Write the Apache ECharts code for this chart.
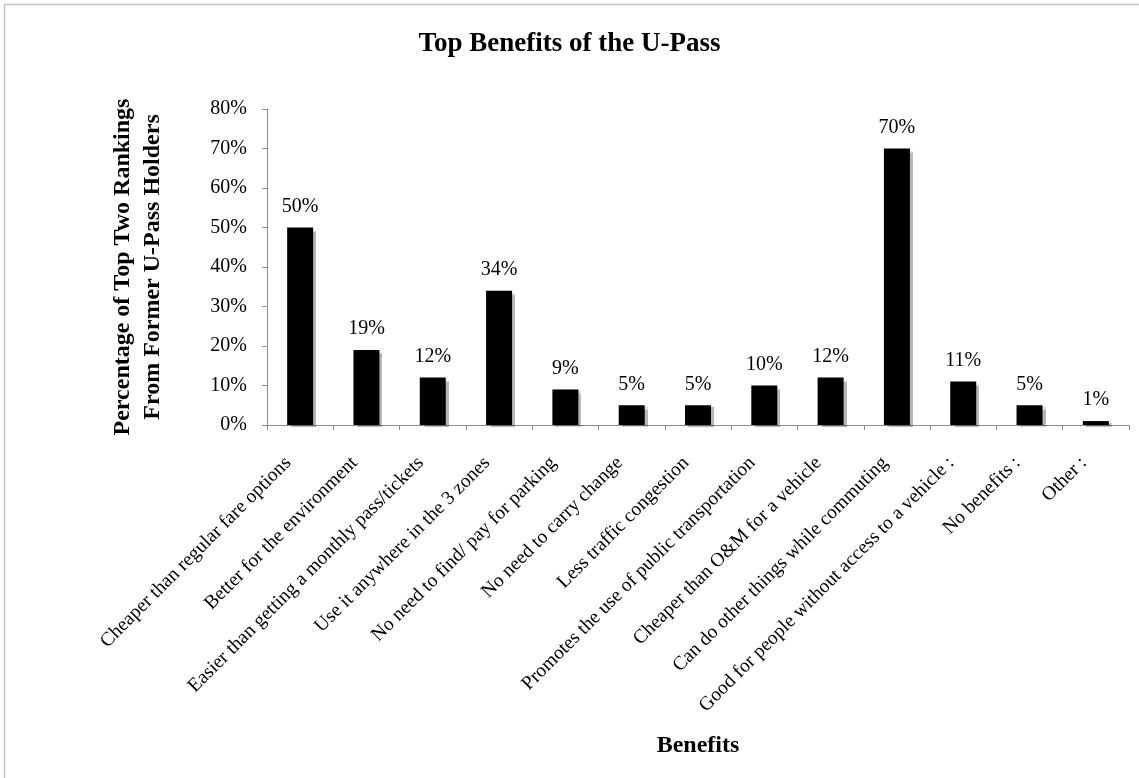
<!DOCTYPE html>
<html>
<head>
<meta charset="utf-8">
<script src="https://cdn.jsdelivr.net/npm/echarts@6/dist/echarts.min.js"></script>
<style>
  html, body { margin: 0; padding: 0; background: #ffffff; }
  #chart { width: 1139px; height: 778px; }
</style>
</head>
<body>
<div id="chart"></div>
<script>
// Survey benefits and the share of top-two rankings each received
const categories = [
  'Cheaper than regular fare options',
  'Better for the environment',
  'Easier than getting a monthly pass/tickets',
  'Use it anywhere in the 3 zones',
  'No need to find/ pay for parking',
  'No need to carry change',
  'Less traffic congestion',
  'Promotes the use of public transportation',
  'Cheaper than O&M for a vehicle',
  'Can do other things while commuting',
  'Good for people without access to a vehicle :',
  'No benefits :',
  'Other :'
];
const percentages = [50, 19, 12, 34, 9, 5, 5, 10, 12, 70, 11, 5, 1];
const yTicks = { min: 0, max: 80, interval: 10 };

const serif = "'Liberation Serif', 'Times New Roman', serif";
const chart = echarts.init(document.getElementById('chart'));

chart.setOption({
  backgroundColor: '#ffffff',
  animation: false,
  title: {
    text: 'Top Benefits of the U-Pass',
    left: 'center',
    top: 26,
    textStyle: { fontFamily: serif, fontWeight: 'bold', fontSize: 27, color: '#000' }
  },
  graphic: [{
    type: 'rect',
    shape: { x: 4.5, y: 4.5, width: 1200, height: 900 },
    style: { fill: 'none', stroke: '#c4c4c4', lineWidth: 1.5 },
    silent: true
  }],
  grid: { left: 267, right: 10, top: 109, bottom: 353, containLabel: false },
  xAxis: {
    type: 'category',
    data: categories,
    name: 'Benefits',
    nameLocation: 'middle',
    nameGap: 309,
    nameTextStyle: { fontFamily: serif, fontWeight: 'bold', fontSize: 24, color: '#000' },
    axisLine: { lineStyle: { color: '#8c8c8c', width: 1 } },
    axisTick: { show: true, alignWithLabel: false, length: 5, lineStyle: { color: '#8c8c8c' } },
    axisLabel: {
      interval: 0,
      rotate: 45,
      margin: 23,
      padding: [0, 17, 0, 0],
      fontFamily: serif,
      fontSize: 19.5,
      color: '#000'
    }
  },
  yAxis: {
    type: 'value',
    min: yTicks.min,
    max: yTicks.max,
    interval: yTicks.interval,
    name: 'Percentage of Top Two Rankings\nFrom Former U-Pass Holders',
    nameLocation: 'middle',
    nameRotate: 90,
    nameGap: 99,
    nameTextStyle: { fontFamily: serif, fontWeight: 'bold', fontSize: 24, lineHeight: 30, color: '#000' },
    splitLine: { show: false },
    axisLine: { show: true, lineStyle: { color: '#8c8c8c', width: 1 } },
    axisTick: { show: true, length: 5, lineStyle: { color: '#8c8c8c' } },
    axisLabel: {
      formatter: '{value}%',
      margin: 20,
      fontFamily: serif,
      fontSize: 20,
      color: '#000'
    }
  },
  series: [{
    type: 'bar',
    data: percentages,
    barWidth: 26,
    itemStyle: {
      color: '#000000',
      shadowColor: 'rgba(0,0,0,0.28)',
      shadowBlur: 1,
      shadowOffsetX: 3,
      shadowOffsetY: 2
    },
    label: {
      show: true,
      position: 'top',
      distance: 11,
      formatter: '{c}%',
      fontFamily: serif,
      fontSize: 20,
      color: '#000'
    }
  }]
});
</script>
</body>
</html>
